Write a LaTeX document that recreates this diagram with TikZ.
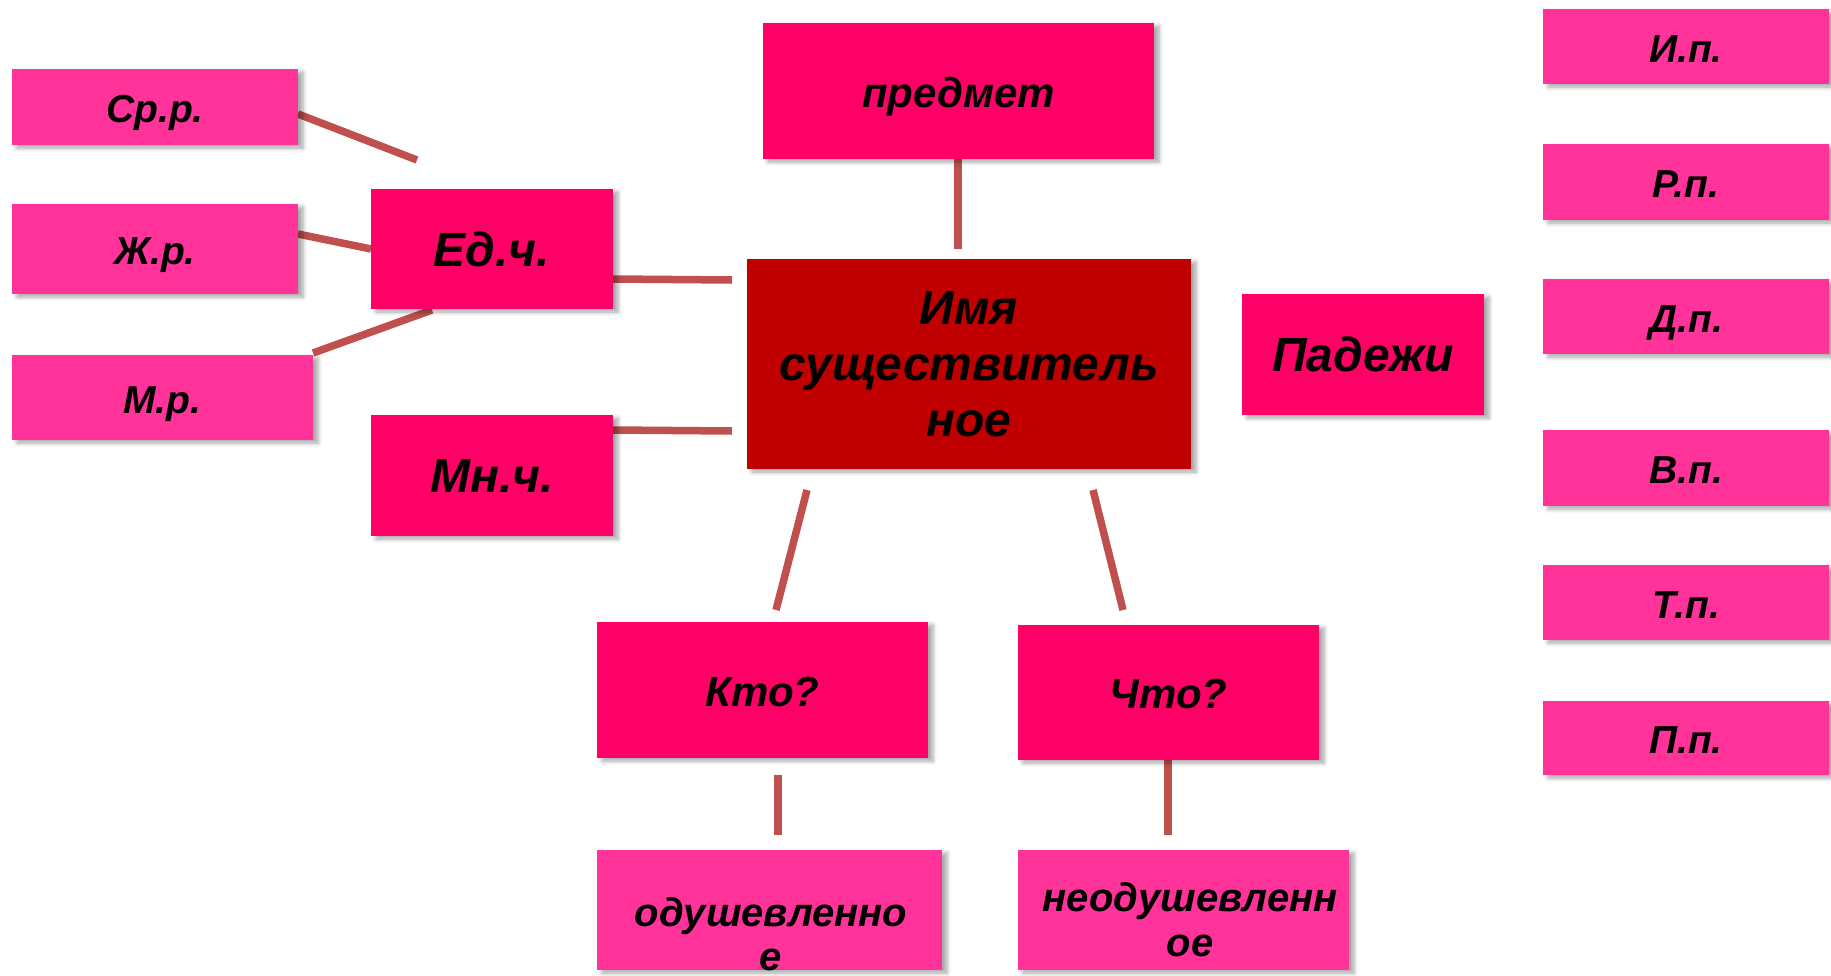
\documentclass[tikz,border=0pt]{standalone}
\usepackage{fontspec}
\setmainfont{Liberation Sans}
\usetikzlibrary{shadows.blur}
\pgfdeclarelayer{background}
\pgfsetlayers{background,main}
\definecolor{hotpink}{HTML}{FF0066}
\definecolor{lightpink}{HTML}{FF3399}
\definecolor{darkred}{HTML}{C00000}
\definecolor{linkred}{HTML}{C0504D}
\tikzset{
  boxbase/.style={rectangle, outer sep=0pt, inner sep=0pt, align=center, text=black,
    blur shadow={shadow xshift=5pt, shadow yshift=-3pt, shadow blur radius=4pt, shadow blur steps=6, shadow opacity=35}},
  bigbox/.style={boxbase, fill=hotpink, font=\bfseries\itshape\fontsize{48}{54}\selectfont},
  midbox/.style={boxbase, fill=hotpink, text height=40pt, text depth=8pt, font=\bfseries\itshape\fontsize{42}{48}\selectfont},
  smallbox/.style={boxbase, fill=lightpink, text height=39pt, text depth=8pt, font=\bfseries\itshape\fontsize{39}{44}\selectfont},
  mainbox/.style={boxbase, fill=darkred, font=\bfseries\itshape\fontsize{48}{56}\selectfont},
  plainbox/.style={boxbase, fill=lightpink},
  wordtext/.style={inner sep=0pt, align=center, font=\bfseries\itshape\fontsize{40}{44}\selectfont},
  link/.style={draw=linkred, line width=7.5pt, line cap=butt}
}
\begin{document}
\begin{tikzpicture}[x=1pt,y=-1pt]
\useasboundingbox (0,0) rectangle (1831,975);

% left column
\node[smallbox, minimum width=286pt, minimum height=76pt] (srp) at (155,107) {Ср.р.};
\node[smallbox, minimum width=286pt, minimum height=90pt] (zhr) at (155,249) {Ж.р.};
\node[smallbox, minimum width=301pt, minimum height=85pt] (mr) at (162.5,397.5) {М.р.};

\node[bigbox, minimum width=242pt, minimum height=120pt] (ed) at (492,249) {Ед.ч.};
\node[bigbox, minimum width=242pt, minimum height=121pt] (mn) at (492,475.5) {Мн.ч.};

% center
\node[midbox, minimum width=391pt, minimum height=136pt] (predmet) at (958.5,91) {предмет};
\node[mainbox, minimum width=444pt, minimum height=210pt] (main) at (969,364) {Имя\\существитель\\ное};
\node[bigbox, minimum width=242pt, minimum height=121pt] (padezhi) at (1363,354.5) {Падежи};

\node[midbox, minimum width=331pt, minimum height=136pt] (kto) at (762.5,690) {Кто?};
\node[midbox, minimum width=301pt, minimum height=135pt] (chto) at (1168.5,692.5) {Что?};

\node[plainbox, minimum width=345pt, minimum height=120pt] (odush) at (769.5,910) {};
\node[plainbox, minimum width=331pt, minimum height=120pt] (neodush) at (1183.5,910) {};
\node[wordtext, anchor=base] (odushtext) at (771,926) {одушевленно};
\node[wordtext, anchor=base] (odushtext2) at (771,970) {е};
\node[wordtext, anchor=base] (neodushtext) at (1190,911) {неодушевленн};
\node[wordtext, anchor=base] (neodushtext2) at (1190,956) {ое};

% cases column
\node[smallbox, minimum width=286pt, minimum height=75pt] (ip) at (1686,46.5) {И.п.};
\node[smallbox, minimum width=286pt, minimum height=76pt] (rp) at (1686,182) {Р.п.};
\node[smallbox, minimum width=286pt, minimum height=75pt] (dp) at (1686,316.5) {Д.п.};
\node[smallbox, minimum width=286pt, minimum height=76pt] (vp) at (1686,468) {В.п.};
\node[smallbox, minimum width=286pt, minimum height=75pt] (tp) at (1686,602.5) {Т.п.};
\node[smallbox, minimum width=286pt, minimum height=74pt] (pp) at (1686,738) {П.п.};

% connector end points
\coordinate (srp-out) at (298,114);
\coordinate (srp-free) at (417,160);
\coordinate (zhr-out) at (298,234);
\coordinate (ed-in) at (371,249);
\coordinate (mr-out) at (313,353);
\coordinate (ed-bot) at (432,310);
\coordinate (ed-out) at (613,279);
\coordinate (main-l1) at (732,280);
\coordinate (mn-out) at (613,430);
\coordinate (main-l2) at (732,431);
\coordinate (predmet-out) at (958,159);
\coordinate (main-top) at (958,249);
\coordinate (main-b1) at (807,490);
\coordinate (kto-top) at (776,610);
\coordinate (main-b2) at (1093,490);
\coordinate (chto-top) at (1123,610);
\coordinate (kto-b) at (778,775);
\coordinate (odush-top) at (778,835);
\coordinate (chto-out) at (1168,760);
\coordinate (neodush-top) at (1168,835);

\begin{pgfonlayer}{background}
\draw[link] (srp-out) -- (srp-free);
\draw[link] (zhr-out) -- (ed-in);
\draw[link] (mr-out) -- (ed-bot);
\draw[link] (ed-out) -- (main-l1);
\draw[link] (mn-out) -- (main-l2);
\draw[link] (predmet-out) -- (main-top);
\draw[link] (main-b1) -- (kto-top);
\draw[link] (main-b2) -- (chto-top);
\draw[link] (kto-b) -- (odush-top);
\draw[link] (chto-out) -- (neodush-top);
\end{pgfonlayer}
\end{tikzpicture}
\end{document}
